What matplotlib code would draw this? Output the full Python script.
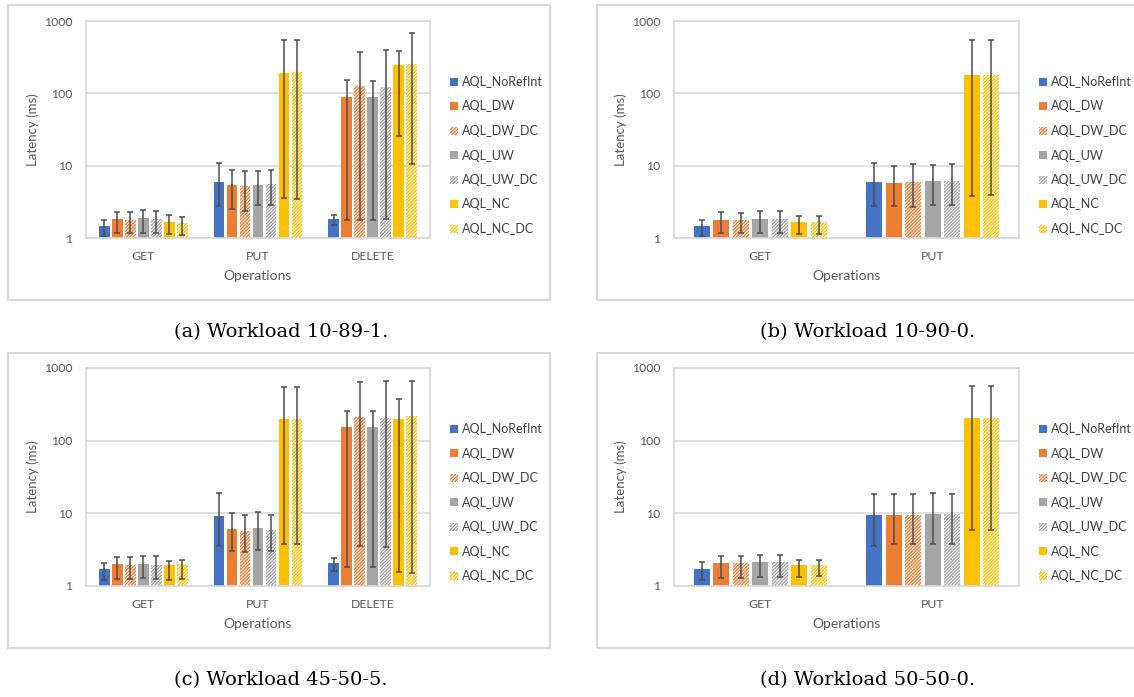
import numpy as np
import matplotlib
matplotlib.use("Agg")
import matplotlib.pyplot as plt
from matplotlib.patches import Rectangle, Patch
from matplotlib.ticker import FixedLocator, FixedFormatter, NullLocator

series = ["AQL_NoRefInt", "AQL_DW", "AQL_DW_DC", "AQL_UW", "AQL_UW_DC", "AQL_NC", "AQL_NC_DC"]
colors = ["#4472C4", "#ED7D31", "#ED7D31", "#A5A5A5", "#A5A5A5", "#FFC000", "#FFC000"]
hatched = [False, False, True, False, True, False, True]

ops3 = ["GET", "PUT", "DELETE"]
ops2 = ["GET", "PUT"]

# (a) Workload 10-89-1  -- rows = series, cols = operations
a_mean = [[1.47, 5.88, 1.83], [1.81, 5.35, 89], [1.75, 5.24, 125], [1.87, 5.46, 88],
          [1.81, 5.52, 122], [1.68, 189, 249], [1.59, 197, 252]]
a_hi = [[1.77, 10.9, 2.10], [2.31, 8.71, 151], [2.26, 8.44, 373], [2.41, 8.44, 150],
        [2.36, 8.71, 393], [2.06, 546, 381], [1.95, 552, 682]]
a_lo = [[1.08, 2.77, 1.53], [1.19, 2.49, 1.79], [1.19, 2.39, 1.79], [1.19, 2.83, 1.79],
        [1.19, 2.83, 1.81], [1.15, 3.57, 25.7], [1.11, 3.46, 10.4]]

# (b) Workload 10-90-0
b_mean = [[1.47, 5.88], [1.79, 5.76], [1.77, 5.95], [1.85, 6.07], [1.83, 6.21], [1.65, 179], [1.66, 179]]
b_hi = [[1.77, 10.8], [2.29, 10.0], [2.24, 10.7], [2.34, 10.2], [2.34, 10.6], [2.01, 546], [2.01, 546]]
b_lo = [[1.08, 2.77], [1.19, 2.77], [1.19, 2.71], [1.19, 2.89], [1.19, 2.89], [1.15, 3.81], [1.15, 3.97]]

# (c) Workload 45-50-5
c_mean = [[1.70, 9.22, 2.05], [1.99, 6.04, 154], [1.93, 5.66, 209], [2.03, 6.37, 154],
          [1.97, 5.98, 205], [1.95, 198, 198], [2.01, 200, 216]]
c_hi = [[2.07, 18.9, 2.41], [2.54, 10.0, 255], [2.48, 9.42, 641], [2.62, 10.3, 253],
        [2.59, 9.62, 668], [2.23, 547, 373], [2.31, 547, 668]]
c_lo = [[1.20, 3.56, 1.61], [1.26, 3.07, 1.81], [1.26, 2.91, 3.59], [1.30, 3.13, 1.81],
        [1.26, 3.00, 3.41], [1.22, 3.83, 1.56], [1.26, 3.83, 1.50]]

# (d) Workload 50-50-0
d_mean = [[1.73, 9.42], [2.05, 9.51], [2.05, 9.42], [2.12, 9.82], [2.12, 9.72], [1.93, 202], [1.97, 202]]
d_hi = [[2.12, 18.7], [2.62, 18.7], [2.62, 18.7], [2.67, 19.1], [2.67, 18.6], [2.31, 558], [2.31, 558]]
d_lo = [[1.21, 3.59], [1.29, 3.75], [1.29, 3.75], [1.33, 3.75], [1.33, 3.75], [1.33, 5.85], [1.36, 5.85]]

captions = ["(a) Workload 10-89-1.", "(b) Workload 10-90-0.", "(c) Workload 45-50-5.", "(d) Workload 50-50-0."]

W, H = 1134, 697
plt.rcParams["hatch.linewidth"] = 1.0
plt.rcParams["font.family"] = ["Lato", "DejaVu Sans"]
fig = plt.figure(figsize=(W / 100, H / 100), dpi=100)

TXT = "#595959"
GRID = "#D9D9D9"
HATCH = "//////////"


def px_rect(l, t, r, b):
    return [l / W, 1 - b / H, (r - l) / W, (b - t) / H]


def draw_panel(box, plot, cats, mean, hi, lo, caption):
    bl, bt, br, bb = box
    fig.patches.append(Rectangle((bl / W, 1 - bb / H), (br - bl) / W, (bb - bt) / H,
                                 transform=fig.transFigure, fill=False,
                                 edgecolor=GRID, linewidth=1.5, zorder=0))
    ax = fig.add_axes(px_rect(*plot))
    ax.set_yscale("log")
    mean = np.array(mean)
    hi = np.array(hi)
    lo = np.array(lo)
    x = np.arange(len(cats))
    step = 0.113
    width = 0.093
    for i in range(len(series)):
        xs = x + (i - 3) * step
        if hatched[i]:
            ax.bar(xs, mean[i], width, color="white", edgecolor=colors[i],
                   hatch=HATCH, linewidth=0, zorder=2)
        else:
            ax.bar(xs, mean[i], width, color=colors[i], linewidth=0, zorder=2)
        err = np.vstack([mean[i] - lo[i], hi[i] - mean[i]])
        ax.errorbar(xs, mean[i], yerr=err, fmt="none", ecolor="#4d4d4d",
                    elinewidth=1.1, capsize=2.3, capthick=1.1, zorder=3)
    ax.set_ylim(1, 1000)
    ax.set_xlim(-0.5, len(cats) - 0.5)
    ax.yaxis.set_major_locator(FixedLocator([1, 10, 100, 1000]))
    ax.yaxis.set_major_formatter(FixedFormatter(["1", "10", "100", "1000"]))
    ax.yaxis.set_minor_locator(NullLocator())
    ax.set_xticks(x)
    ax.set_xticklabels(cats)
    ax.tick_params(length=0, labelsize=8.8, labelcolor=TXT)
    ax.tick_params(axis="y", pad=10)
    ax.tick_params(axis="x", pad=9)
    ax.grid(axis="y", color=GRID, linewidth=1.2, zorder=0)
    ax.set_axisbelow(True)
    for s in ax.spines.values():
        s.set_color(GRID)
        s.set_linewidth(1.2)
    ax.set_ylabel("Latency (ms)", fontsize=9.5, color=TXT, labelpad=3)
    ax.set_xlabel("Operations", fontsize=10, color=TXT, labelpad=6)

    handles = []
    for i in range(len(series)):
        if hatched[i]:
            handles.append(Patch(facecolor="white", edgecolor=colors[i], hatch=HATCH,
                                 linewidth=0, label=series[i]))
        else:
            handles.append(Patch(facecolor=colors[i], linewidth=0, label=series[i]))
    fig.legend(handles=handles, loc="upper left",
               bbox_to_anchor=((plot[2] + 20) / W, 1 - (plot[1] + 55) / H),
               frameon=False, fontsize=9.0, labelcolor="#404040",
               handlelength=0.62, handleheight=0.62, handletextpad=0.33,
               labelspacing=1.0, borderaxespad=0, borderpad=0)

    fig.text(((bl + min(br, W)) / 2 + 2) / W, 1 - (bb + 32) / H, caption,
             ha="center", va="center", fontsize=14, family="DejaVu Serif", color="black")


draw_panel((8, 5, 550, 300), (86, 21, 430, 238), ops3, a_mean, a_hi, a_lo, captions[0])
draw_panel((597, 5, 1140, 300), (674, 21, 1019, 238), ops2, b_mean, b_hi, b_lo, captions[1])
draw_panel((8, 353, 550, 648), (86, 368, 430, 586), ops3, c_mean, c_hi, c_lo, captions[2])
draw_panel((597, 353, 1140, 648), (674, 368, 1019, 586), ops2, d_mean, d_hi, d_lo, captions[3])

fig.savefig("out.png", dpi=100)
